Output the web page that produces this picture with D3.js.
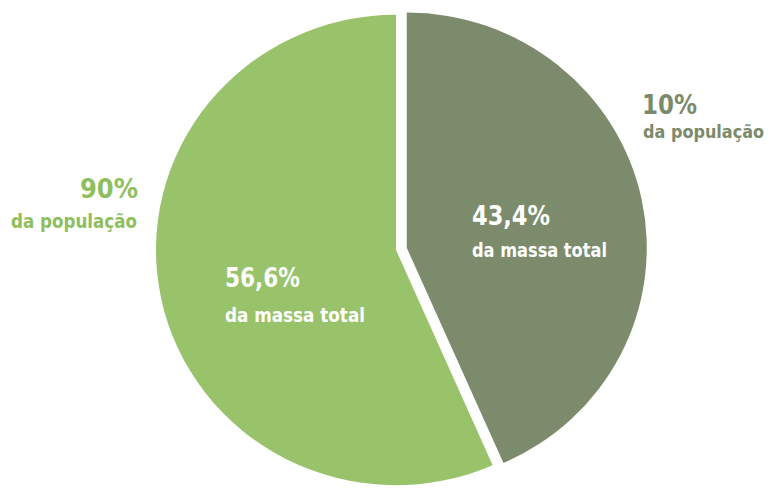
<!DOCTYPE html>
<html>
<head>
<meta charset="utf-8">
<script src="https://cdn.jsdelivr.net/npm/d3@7"></script>
<style>
  html, body { margin: 0; padding: 0; background: #fff; }
  svg { display: block; }
  text { font-family: "Liberation Sans Narrow", "DejaVu Sans Condensed", "Roboto", sans-serif; font-weight: bold; font-stretch: condensed; }
</style>
</head>
<body>
<div id="chart"></div>
<script>
// Share of total mass held by each population group
const groups = ['top10', 'bottom90'];
const massShare = [43.4, 56.6];
const popLabels = ['10%', '90%'];
const massLabels = ['43,4%', '56,6%'];
const popSub = 'da população';
const massSub = 'da massa total';

const width = 773, height = 488;
const cx = 396, cy = 250;
const radius = 240;

const sliceColor = ['#7b8b6b', '#98c36b'];
const outerColor = ['#7b8a6a', '#8fbe5e'];
const explode = [11, 0];

const svg = d3.select('#chart')
    .append('svg')
    .attr('width', width)
    .attr('height', height);

const pie = d3.pie().sort(null).value(d => d);
const arcs = pie(massShare);

const arc = d3.arc().innerRadius(0).outerRadius(radius);

// slightly squashed vertically, like the original
const pieG = svg.append('g')
    .attr('transform', `translate(${cx},${cy}) scale(1,0.98)`);

pieG.selectAll('path')
    .data(arcs)
    .enter()
    .append('path')
    .attr('d', arc)
    .attr('fill', (d, i) => sliceColor[i])
    .attr('transform', (d, i) => {
        const a = (d.startAngle + d.endAngle) / 2;
        return `translate(${Math.sin(a) * explode[i]},${-Math.cos(a) * explode[i]})`;
    });

// label layout: big number baseline and the sub line below it
const inside = [
    { x: 472, y: 225, w: 78, sx: 472, sy: 257, sw: 135 },
    { x: 225, y: 287, w: 75, sx: 225, sy: 322, sw: 140 }
];
const outside = [
    { x: 642, y: 114, w: 55, anchor: 'start', sx: 643, sy: 138, sw: 121, fs: 18 },
    { x: 138, y: 198, w: 58, anchor: 'end', sx: 137, sy: 228, sw: 126, fs: 20 }
];

groups.forEach((g, i) => {
    const p = inside[i];
    svg.append('text')
        .attr('x', p.x).attr('y', p.y)
        .attr('fill', '#fff')
        .style('font-size', '27px')
        .attr('textLength', p.w).attr('lengthAdjust', 'spacingAndGlyphs')
        .text(massLabels[i]);
    svg.append('text')
        .attr('x', p.sx).attr('y', p.sy)
        .attr('fill', '#fff')
        .style('font-size', '20px')
        .attr('textLength', p.sw).attr('lengthAdjust', 'spacingAndGlyphs')
        .text(massSub);

    const o = outside[i];
    svg.append('text')
        .attr('x', o.anchor === 'end' ? o.x - o.w : o.x)
        .attr('y', o.y)
        .attr('fill', outerColor[i])
        .style('font-size', '26px')
        .attr('textLength', o.w).attr('lengthAdjust', 'spacingAndGlyphs')
        .text(popLabels[i]);
    svg.append('text')
        .attr('x', o.anchor === 'end' ? o.sx - o.sw : o.sx)
        .attr('y', o.sy)
        .attr('fill', outerColor[i])
        .style('font-size', o.fs + 'px')
        .attr('textLength', o.sw).attr('lengthAdjust', 'spacingAndGlyphs')
        .text(popSub);
});
</script>
</body>
</html>
